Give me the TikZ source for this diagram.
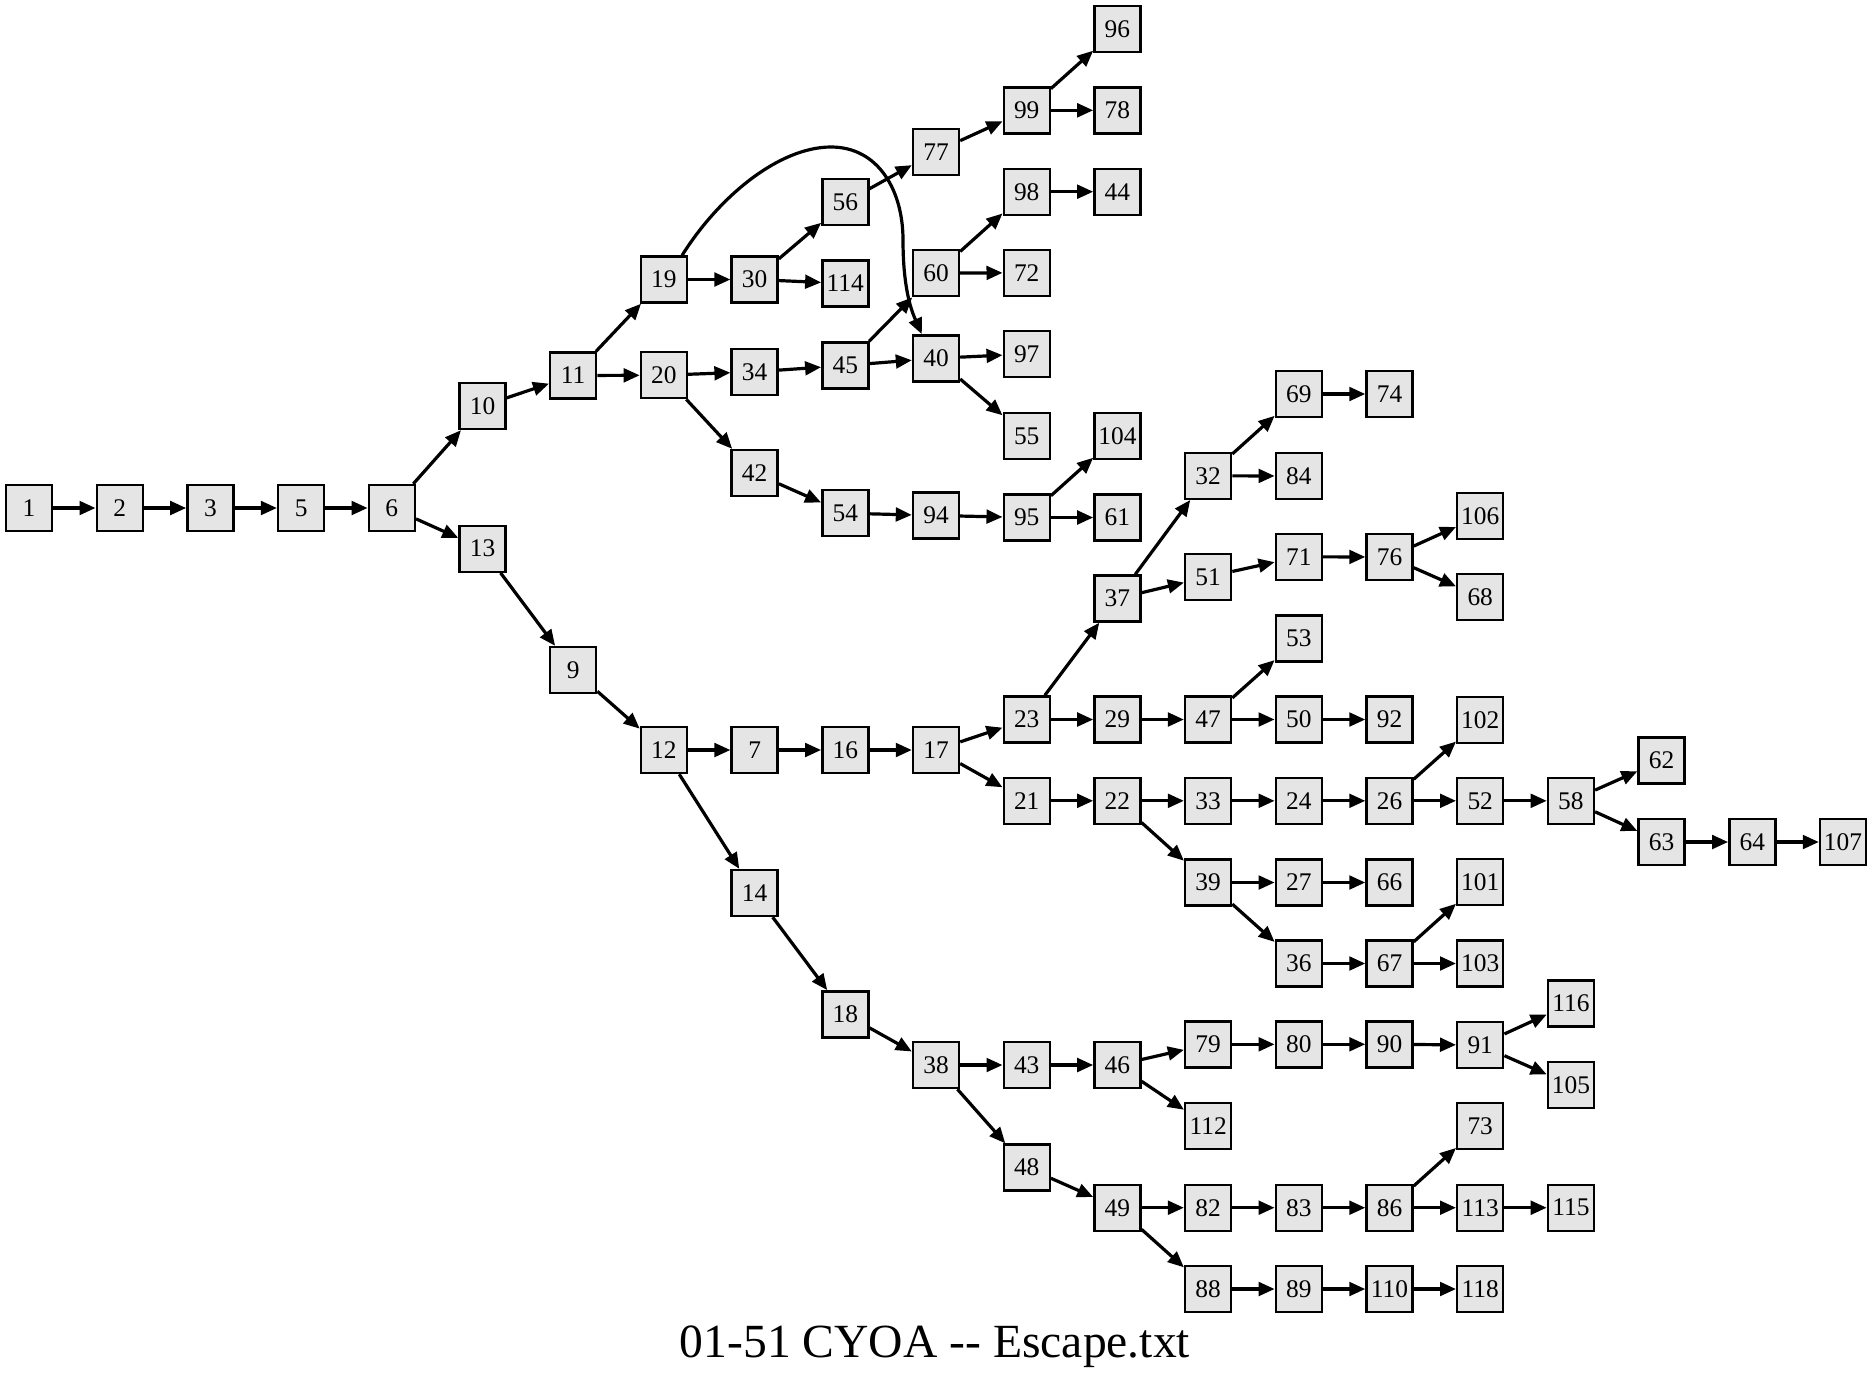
\documentclass[tikz,border=0pt]{standalone}
\usepackage{fontspec}
\setmainfont{Liberation Serif}
\usetikzlibrary{arrows.meta}
\definecolor{boxgray}{RGB}{229,229,229}
\begin{document}
\begin{tikzpicture}[x=0.5pt,y=-0.5pt,
  box/.style={draw=black, fill=boxgray, line width=1.2pt, minimum size=23pt, inner sep=0pt,
    font=\fontsize{12.7}{14}\selectfont},
  link/.style={line width=1.6pt, draw=black, -{Triangle[length=8pt,width=6.8pt]}}]
\useasboundingbox (0,0) rectangle (1872,1377);
% column 0-4
\node[box] (n1) at (29,508) {1};
\node[box] (n2) at (119.7,508) {2};
\node[box] (n3) at (210.4,508) {3};
\node[box] (n5) at (301.1,508) {5};
\node[box] (n6) at (391.8,508) {6};
% column 5
\node[box] (n10) at (482.5,406) {10};
\node[box] (n13) at (482.5,548.7) {13};
% column 6
\node[box] (n11) at (573.2,375.5) {11};
\node[box] (n9) at (573.2,670) {9};
% column 7
\node[box] (n19) at (663.9,279.5) {19};
\node[box] (n20) at (663.9,375.2) {20};
\node[box] (n12) at (663.9,750) {12};
% column 8
\node[box] (n30) at (754.6,279.5) {30};
\node[box] (n34) at (754.6,371.8) {34};
\node[box] (n42) at (754.6,473) {42};
\node[box] (n7) at (754.6,750) {7};
\node[box] (n14) at (754.6,893) {14};
% column 9
\node[box] (n56) at (845.3,202.2) {56};
\node[box] (n114) at (845.3,283.5) {114};
\node[box] (n45) at (845.3,365.5) {45};
\node[box] (n54) at (845.3,513.2) {54};
\node[box] (n16) at (845.3,750) {16};
\node[box] (n18) at (845.3,1014.3) {18};
% column 10
\node[box] (n77) at (936,151.7) {77};
\node[box] (n60) at (936,273.2) {60};
\node[box] (n40) at (936,358.3) {40};
\node[box] (n94) at (936,515.5) {94};
\node[box] (n17) at (936,750) {17};
\node[box] (n38) at (936,1065) {38};
% column 11
\node[box] (n99) at (1026.7,110.3) {99};
\node[box] (n98) at (1026.7,191.7) {98};
\node[box] (n72) at (1026.7,272.7) {72};
\node[box] (n97) at (1026.7,354) {97};
\node[box] (n55) at (1026.7,436) {55};
\node[box] (n95) at (1026.7,517.5) {95};
\node[box] (n23) at (1026.7,719.5) {23};
\node[box] (n21) at (1026.7,800.8) {21};
\node[box] (n43) at (1026.7,1065) {43};
\node[box] (n48) at (1026.7,1167.5) {48};
% column 12
\node[box] (n96) at (1117.4,29) {96};
\node[box] (n78) at (1117.4,110.3) {78};
\node[box] (n44) at (1117.4,191.7) {44};
\node[box] (n104) at (1117.4,436) {104};
\node[box] (n61) at (1117.4,517.5) {61};
\node[box] (n37) at (1117.4,598.5) {37};
\node[box] (n29) at (1117.4,719.5) {29};
\node[box] (n22) at (1117.4,800.8) {22};
\node[box] (n46) at (1117.4,1065) {46};
\node[box] (n49) at (1117.4,1207.7) {49};
% column 13
\node[box] (n32) at (1208.1,475.8) {32};
\node[box] (n51) at (1208.1,576.8) {51};
\node[box] (n47) at (1208.1,719.5) {47};
\node[box] (n33) at (1208.1,800.8) {33};
\node[box] (n39) at (1208.1,882.5) {39};
\node[box] (n79) at (1208.1,1044.3) {79};
\node[box] (n112) at (1208.1,1126) {112};
\node[box] (n82) at (1208.1,1207.7) {82};
\node[box] (n88) at (1208.1,1289) {88};
% column 14
\node[box] (n69) at (1298.8,394) {69};
\node[box] (n84) at (1298.8,476) {84};
\node[box] (n71) at (1298.8,556.8) {71};
\node[box] (n53) at (1298.8,638.5) {53};
\node[box] (n50) at (1298.8,719.5) {50};
\node[box] (n24) at (1298.8,800.8) {24};
\node[box] (n27) at (1298.8,882.5) {27};
\node[box] (n36) at (1298.8,963.5) {36};
\node[box] (n80) at (1298.8,1044.3) {80};
\node[box] (n83) at (1298.8,1207.7) {83};
\node[box] (n89) at (1298.8,1289) {89};
% column 15
\node[box] (n74) at (1389.5,394) {74};
\node[box] (n76) at (1389.5,557) {76};
\node[box] (n92) at (1389.5,719.5) {92};
\node[box] (n26) at (1389.5,800.8) {26};
\node[box] (n66) at (1389.5,882.5) {66};
\node[box] (n67) at (1389.5,963.5) {67};
\node[box] (n90) at (1389.5,1044.3) {90};
\node[box] (n86) at (1389.5,1207.7) {86};
\node[box] (n110) at (1389.5,1289) {110};
% column 16
\node[box] (n106) at (1480.2,516) {106};
\node[box] (n68) at (1480.2,597) {68};
\node[box] (n102) at (1480.2,720) {102};
\node[box] (n52) at (1480.2,800.8) {52};
\node[box] (n101) at (1480.2,882) {101};
\node[box] (n103) at (1480.2,963.5) {103};
\node[box] (n91) at (1480.2,1045) {91};
\node[box] (n73) at (1480.2,1126.2) {73};
\node[box] (n113) at (1480.2,1207.7) {113};
\node[box] (n118) at (1480.2,1289) {118};
% column 17
\node[box] (n58) at (1570.9,800.8) {58};
\node[box] (n116) at (1570.9,1003.5) {116};
\node[box] (n105) at (1570.9,1085) {105};
\node[box] (n115) at (1570.9,1207.7) {115};
% columns 18-20
\node[box] (n62) at (1661.6,760.5) {62};
\node[box] (n63) at (1661.6,842) {63};
\node[box] (n64) at (1752.3,842) {64};
\node[box] (n107) at (1843,842) {107};
% title
\node[font=\fontsize{23.8}{28}\selectfont, anchor=base, inner sep=0pt] (title) at (935,1357) {01-51 CYOA -\kern0pt- Escape.txt};
% edges
\foreach \a/\b in {1/2,2/3,3/5,5/6,6/10,6/13,10/11,11/19,11/20,19/30,30/56,30/114,
  56/77,77/99,99/96,99/78,20/34,20/42,34/45,45/60,45/40,60/98,60/72,98/44,40/97,40/55,
  42/54,54/94,94/95,95/104,95/61,13/9,9/12,12/7,12/14,7/16,16/17,17/23,17/21,23/37,23/29,
  37/32,37/51,32/69,32/84,69/74,51/71,71/76,76/106,76/68,29/47,47/53,47/50,50/92,
  21/22,22/33,22/39,33/24,24/26,26/102,26/52,52/58,58/62,58/63,63/64,64/107,
  39/27,39/36,27/66,36/67,67/101,67/103,14/18,18/38,38/43,38/48,43/46,46/79,46/112,
  79/80,80/90,90/91,91/116,91/105,48/49,49/82,49/88,82/83,83/86,86/73,86/113,
  113/115,88/89,89/110,110/118}
  \draw[link] (n\a) -- (n\b);
\draw[link] ([xshift=-3pt]n19.north east) .. controls (720,195) and (780,147) .. (831,147)
  .. controls (878,147) and (903,190) .. (903,240)
  .. controls (903,290) and (912,312) .. ([xshift=5pt]n40.north west);
\end{tikzpicture}
\end{document}
